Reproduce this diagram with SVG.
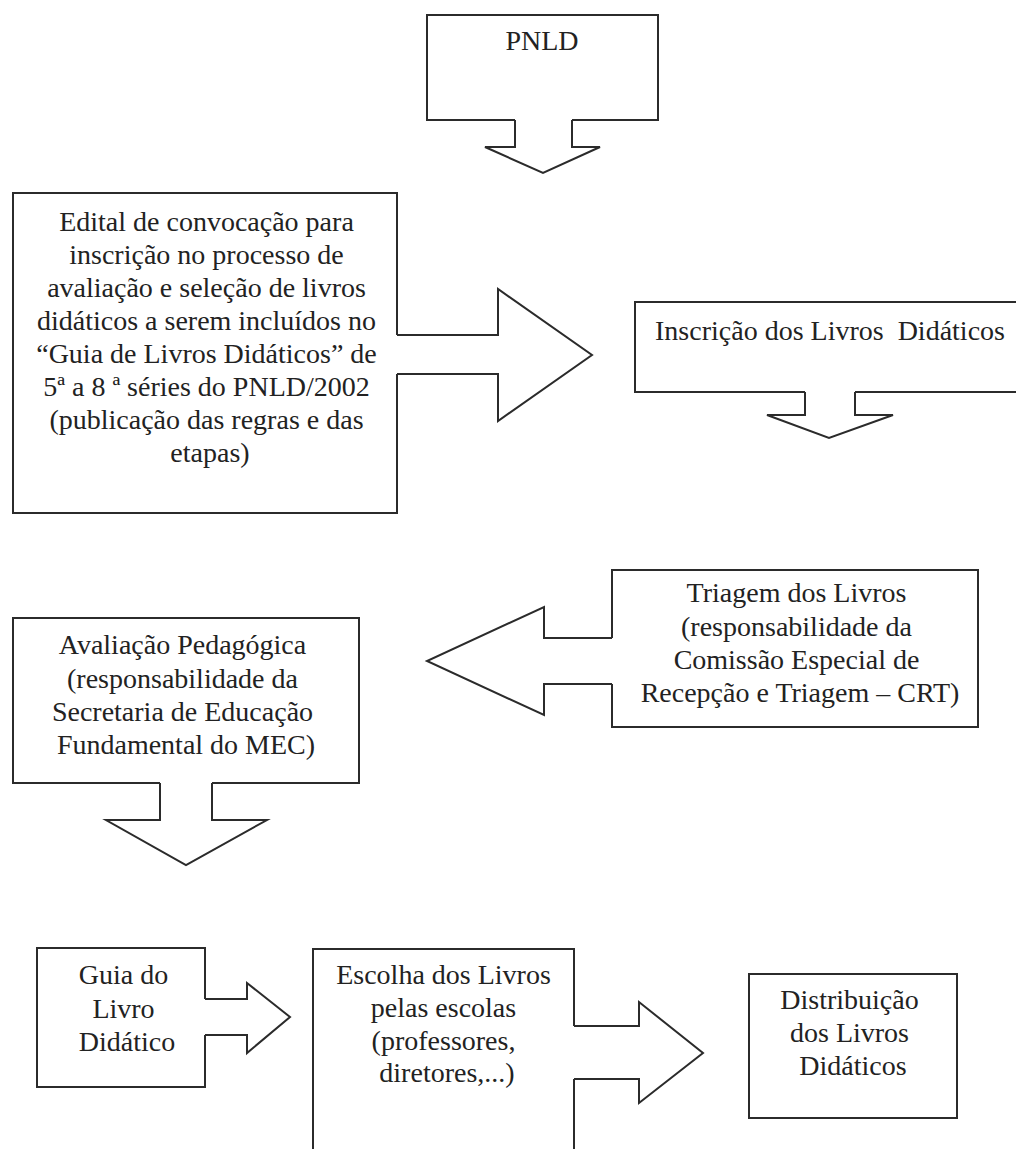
<svg xmlns="http://www.w3.org/2000/svg" width="1016" height="1149" viewBox="0 0 1016 1149">
<style>
.sh{fill:none;stroke:#2b2b2b;stroke-width:2;stroke-linejoin:miter}
.t{font-family:'Liberation Serif','Times New Roman','DejaVu Serif',serif;font-size:28px;fill:#222;text-anchor:middle}
</style>
<rect width="1016" height="1149" fill="#fff"/>
<g id="connectors">
<path class="sh" d="M515 120 V147 H485 L543 173 L600 147 H572 V120"/>
<path class="sh" d="M397 335 H498 V289 L592 355 L498 421 V374 H397"/>
<path class="sh" d="M805 392 V415 H767 L829 438 L893 415 H855 V392"/>
<path class="sh" d="M612 638 H544 V607 L427 661 L544 715 V684 H612"/>
<path class="sh" d="M160 783 V820 H106 L186 865 L267 820 H212 V783"/>
<path class="sh" d="M205 999 H247 V983 L290 1017 L247 1053 V1035 H205"/>
<path class="sh" d="M574 1026 H639 V1002 L703 1053 L639 1103 V1079 H574"/>
</g>
<g font-family="Liberation Serif, Times New Roman, serif">
<g id="pnld">
<path class="sh" d="M515 120 H427 V15 H658 V120 H572"/>
<text class="t" x="542" y="50">PNLD</text>
</g>
<g id="edital">
<path class="sh" d="M397 335 V193 H13 V513 H397 V374"/>
<text class="t">
<tspan x="210" y="231">Edital de convocação para</tspan>
<tspan x="210" y="264">inscrição no processo de</tspan>
<tspan x="210" y="297">avaliação e seleção de livros</tspan>
<tspan x="210" y="330">didáticos a serem incluídos no</tspan>
<tspan x="210" y="363">“Guia de Livros Didáticos” de</tspan>
<tspan x="210" y="396">5ª a 8 ª séries do PNLD/2002</tspan>
<tspan x="210" y="429">(publicação das regras e das</tspan>
<tspan x="210" y="462">etapas)</tspan>
</text>
</g>
<g id="inscricao">
<path class="sh" d="M805 392 H635 V302 H1025 V392 H855"/>
<text class="t" x="830" y="340" xml:space="preserve">Inscrição dos Livros  Didáticos</text>
</g>
<g id="triagem">
<path class="sh" d="M612 638 V570 H978 V727 H612 V684"/>
<text class="t">
<tspan x="800" y="602">Triagem dos Livros</tspan>
<tspan x="800" y="636">(responsabilidade da</tspan>
<tspan x="800" y="669">Comissão Especial de</tspan>
<tspan x="800" y="702">Recepção e Triagem – CRT)</tspan>
</text>
</g>
<g id="avaliacao">
<path class="sh" d="M160 783 H13 V618 H359 V783 H212"/>
<text class="t">
<tspan x="186" y="654">Avaliação Pedagógica</tspan>
<tspan x="186" y="688">(responsabilidade da</tspan>
<tspan x="186" y="721">Secretaria de Educação</tspan>
<tspan x="186" y="754">Fundamental do MEC)</tspan>
</text>
</g>
<g id="guia">
<path class="sh" d="M205 999 V948 H37 V1087 H205 V1035"/>
<text class="t">
<tspan x="127" y="984">Guia do</tspan>
<tspan x="127" y="1018">Livro</tspan>
<tspan x="127" y="1051">Didático</tspan>
</text>
</g>
<g id="escolha">
<path class="sh" d="M574 1026 V949 H313 V1160 M574 1079 V1160"/>
<text class="t">
<tspan x="447" y="984">Escolha dos Livros</tspan>
<tspan x="447" y="1017">pelas escolas</tspan>
<tspan x="447" y="1050">(professores,</tspan>
<tspan x="447" y="1082">diretores,...)</tspan>
</text>
</g>
<g id="distribuicao">
<rect class="sh" x="749" y="974" width="208" height="144"/>
<text class="t">
<tspan x="853" y="1009">Distribuição</tspan>
<tspan x="853" y="1042">dos Livros</tspan>
<tspan x="853" y="1075">Didáticos</tspan>
</text>
</g>
</g>
</svg>
